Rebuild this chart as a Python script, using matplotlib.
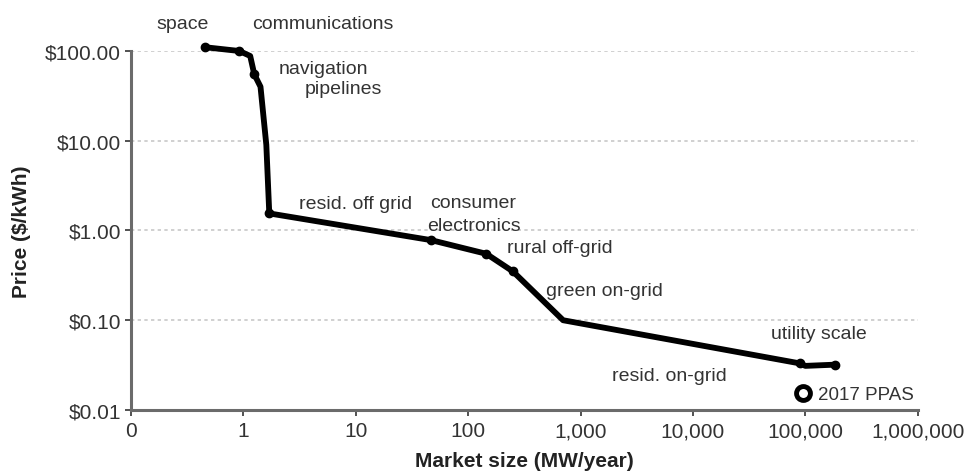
import matplotlib
matplotlib.use("Agg")
import matplotlib.pyplot as plt
from matplotlib.ticker import FixedLocator, FixedFormatter, NullLocator

plt.rcParams['font.family'] = ['Liberation Sans', 'DejaVu Sans']

# Experience curve: market size (MW/year) vs. price ($/kWh)
market_size = [0.46, 0.92, 1.15, 1.25, 1.42, 1.6, 1.7, 47, 145, 250, 700, 90000, 100000, 185000]
price = [110, 100, 88, 55, 40, 9, 1.55, 0.78, 0.55, 0.35, 0.1, 0.033, 0.031, 0.032]

# Points that carry a marker dot
marker_size = [0.46, 0.92, 1.25, 1.7, 47, 145, 250, 90000, 185000]
marker_price = [110, 100, 55, 1.55, 0.78, 0.55, 0.35, 0.033, 0.032]

# 2017 power purchase agreements
ppa_size = [96000]
ppa_price = [0.0155]

x_ticks = [0.1, 1, 10, 100, 1000, 10000, 100000, 1000000]
x_tick_labels = ["0", "1", "10", "100", "1,000", "10,000", "100,000", "1,000,000"]
y_ticks = [0.01, 0.1, 1, 10, 100]
y_tick_labels = ["$0.01", "$0.10", "$1.00", "$10.00", "$100.00"]

# Segment labels (text, x, y in data units)
labels = [
    ("space", 0.29, 215),
    ("communications", 5.05, 215),
    ("navigation", 5.15, 68),
    ("pipelines", 7.8, 40),
    ("resid. off grid", 9.9, 2.1),
    ("consumer", 111, 2.15),
    ("electronics", 113, 1.2),
    ("rural off-grid", 650, 0.68),
    ("green on-grid", 1620, 0.227),
    ("utility scale", 133000, 0.0755),
    ("resid. on-grid", 6160, 0.0258),
]

fig = plt.figure(figsize=(9.66, 4.77), dpi=100)
ax = fig.add_axes([0.1356, 0.1384, 0.8144, 0.7526])
ax.set_xscale("log")
ax.set_yscale("log")
ax.set_xlim(0.1, 1000000)
ax.set_ylim(0.01, 100)

for v in [0.1, 1, 10, 100]:
    ax.axhline(v, color="#c8c8c8", lw=1.2, ls=(0, (2, 2)), zorder=1)

ax.plot(market_size, price, color="black", lw=4.2, solid_capstyle="round",
        solid_joinstyle="round", clip_on=False, zorder=3)
ax.plot(marker_size, marker_price, "o", color="black", ms=6, clip_on=False, zorder=4)
ax.plot(ppa_size, ppa_price, "o", mfc="white", mec="black", mew=3.5, ms=10,
        clip_on=False, zorder=4)
ax.annotate("2017 PPAS", (130000, ppa_price[0]), xytext=(0, -1.5),
            textcoords="offset points", fontsize=13.5, color="#333333",
            va="center", ha="left")

for text, x, y in labels:
    ax.annotate(text, (x, y), xytext=(0, -1.5), textcoords="offset points",
                fontsize=14, color="#333333", ha="center", va="center",
                annotation_clip=False)

ax.xaxis.set_major_locator(FixedLocator(x_ticks))
ax.xaxis.set_major_formatter(FixedFormatter(x_tick_labels))
ax.xaxis.set_minor_locator(NullLocator())
ax.yaxis.set_major_locator(FixedLocator(y_ticks))
ax.yaxis.set_major_formatter(FixedFormatter(y_tick_labels))
ax.yaxis.set_minor_locator(NullLocator())

for s in ["top", "right"]:
    ax.spines[s].set_visible(False)
for s in ["left", "bottom"]:
    ax.spines[s].set_color("#6b6b6b")
    ax.spines[s].set_linewidth(2.2)

ax.tick_params(axis="both", labelsize=15, labelcolor="#333333", color="#333333",
               length=4, width=1.2)
ax.tick_params(axis="x", pad=4)
ax.tick_params(axis="y", pad=3)

ax.set_xlabel("Market size (MW/year)", fontsize=15, fontweight="bold", color="#222222", labelpad=8)
ax.set_ylabel("Price ($/kWh)", fontsize=15, fontweight="bold", color="#222222", labelpad=10)

fig.savefig("out.png", dpi=100)
